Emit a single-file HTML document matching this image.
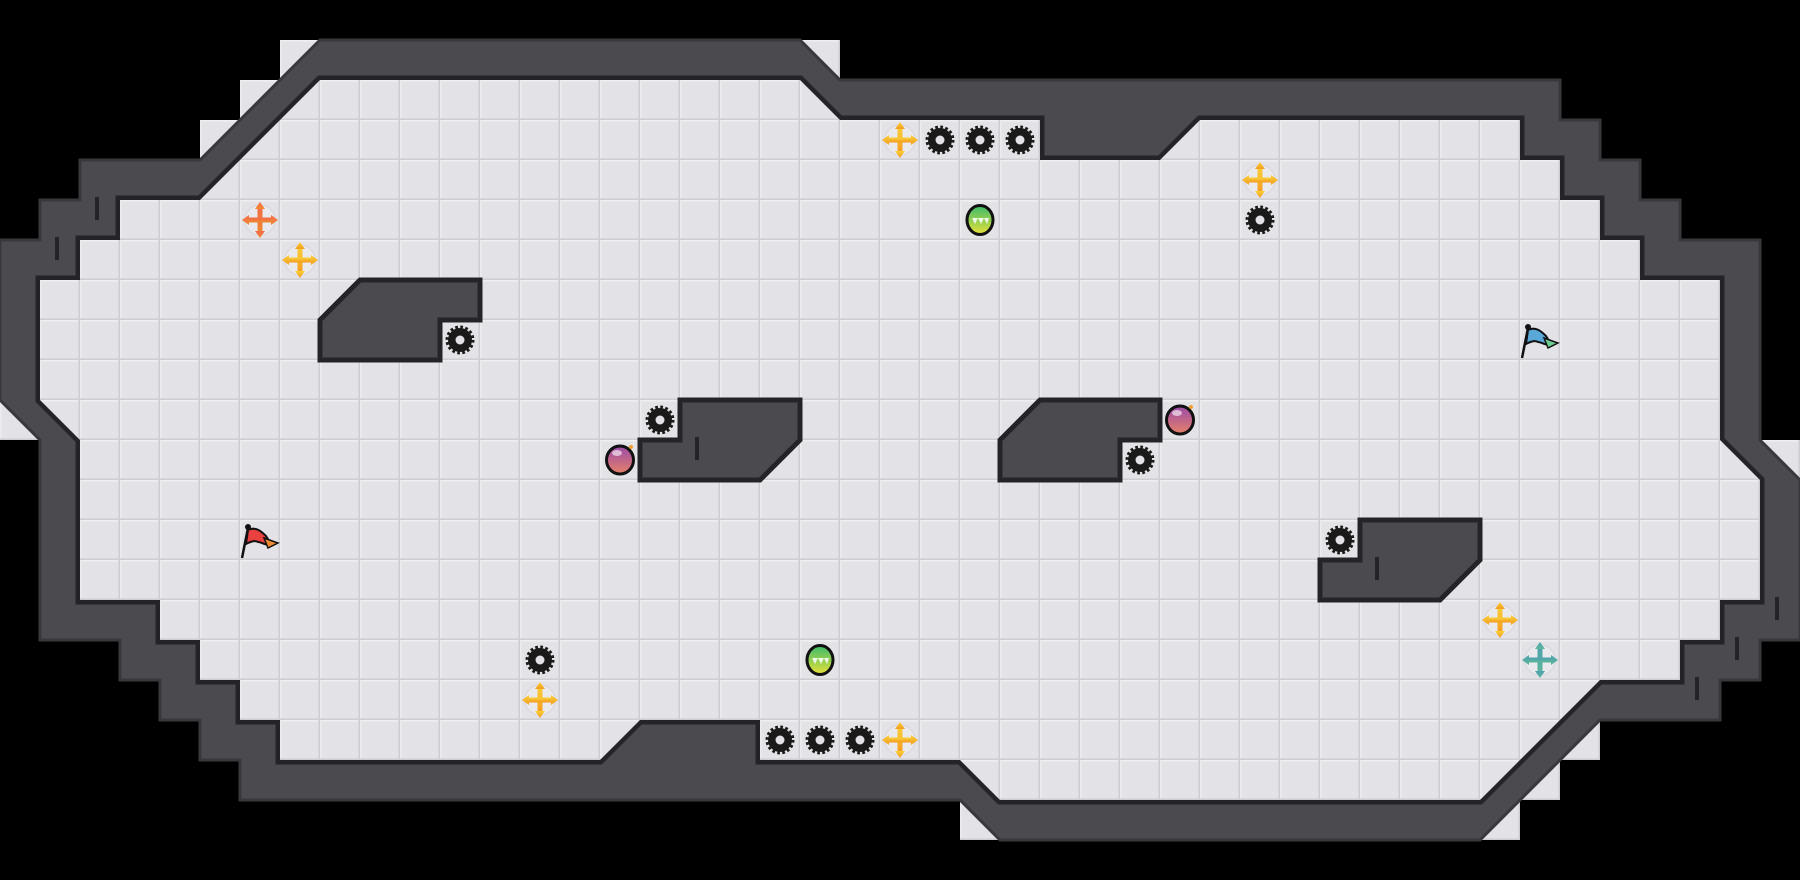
<!DOCTYPE html>
<html><head><meta charset="utf-8"><style>html,body{margin:0;padding:0;background:#000}svg{display:block}</style></head><body>
<svg width="1800" height="880" viewBox="0 0 1800 880" xmlns="http://www.w3.org/2000/svg">
<defs>
<pattern id="tile" width="40" height="40" patternUnits="userSpaceOnUse">
<rect width="40" height="40" fill="#e3e3e7"/>
<rect x="0" y="0" width="40" height="1.5" fill="#efeff2"/>
<rect x="0" y="0" width="1.5" height="40" fill="#ececef"/>
<rect x="38.5" y="0" width="1.5" height="40" fill="#cdcdd2"/>
<rect x="0" y="38.5" width="40" height="1.5" fill="#cdcdd2"/>
</pattern>
<linearGradient id="yel" x1="0" y1="0" x2="0" y2="1"><stop offset="0" stop-color="#f9d23a"/><stop offset="1" stop-color="#f39a1e"/></linearGradient>
<linearGradient id="ora" x1="0" y1="0" x2="0" y2="1"><stop offset="0" stop-color="#f26a4a"/><stop offset="1" stop-color="#f08a30"/></linearGradient>
<linearGradient id="tea" x1="0" y1="0" x2="0" y2="1"><stop offset="0" stop-color="#4f9fb0"/><stop offset="1" stop-color="#5db89a"/></linearGradient>
<linearGradient id="grn" x1="0" y1="0" x2="0" y2="1"><stop offset="0" stop-color="#3dba6a"/><stop offset="1" stop-color="#e6e23a"/></linearGradient>
<linearGradient id="pur" x1="0" y1="0" x2="0" y2="1"><stop offset="0" stop-color="#9a4aa8"/><stop offset="1" stop-color="#e7806a"/></linearGradient>
<g id="gear">
<circle r="12.5" fill="none" stroke="#1a1a1a" stroke-width="4" stroke-dasharray="2.6 2.3"/>
<circle r="12" fill="#1a1a1a"/>
<circle r="4.5" fill="#e3e3e7"/>
</g>
<g id="cross">
<circle r="15" fill="#e9e9ee" stroke="#d6d6dc" stroke-width="1"/>
<rect x="-2.5" y="-13" width="5" height="26"/>
<rect x="-13" y="-2.5" width="26" height="5"/>
<polygon points="0,-18 -5,-11 5,-11"/>
<polygon points="0,18 -5,11 5,11"/>
<polygon points="-18,0 -11,-5 -11,5"/>
<polygon points="18,0 11,-5 11,5"/>
</g>
<g id="ball">
<ellipse rx="13" ry="14.5" fill="url(#grn)" stroke="#111" stroke-width="3"/>
<polygon points="-8,-2 -5,4 -2,-2 1,4 4,-2 7,4 9,-2" fill="#fff" opacity="0.85"/>
</g>
<g id="bomb">
<ellipse rx="13.5" ry="14" fill="url(#pur)" stroke="#111" stroke-width="3"/>
<ellipse cx="-3" cy="-7" rx="5" ry="3" fill="#fff" opacity="0.6"/>
<circle cx="11" cy="-13" r="2" fill="#f0a030"/>
</g>
</defs>

<rect width="1800" height="880" fill="#000"/>

<!-- light outer cells -->
<g fill="url(#tile)">
<rect x="280" y="40" width="40" height="40"/>
<rect x="240" y="80" width="40" height="40"/>
<rect x="200" y="120" width="40" height="40"/>
<rect x="800" y="40" width="40" height="40"/>
<rect x="1760" y="440" width="40" height="40"/>
<rect x="1560" y="720" width="40" height="40"/>
<rect x="1520" y="760" width="40" height="40"/>
<rect x="1480" y="800" width="40" height="40"/>
<rect x="960" y="800" width="40" height="40"/>
<rect x="0" y="400" width="40" height="40"/>
</g>

<!-- wall -->
<polygon fill="#4a4a4f" stroke="#38383d" stroke-width="3" points="320,40 800,40 840,80 1560,80 1560,120 1600,120 1600,160 1640,160 1640,200 1680,200 1680,240 1760,240 1760,440 1800,480 1800,640 1760,640 1760,680 1720,680 1720,720 1600,720 1480,840 1000,840 960,800 240,800 240,760 200,760 200,720 160,720 160,680 120,680 120,640 40,640 40,440 0,400 0,240 40,240 40,200 80,200 80,160 200,160"/>

<!-- floor -->
<polygon id="fl" fill="none" stroke="#242428" stroke-width="9" stroke-linejoin="miter" points="320,80 800,80 840,120 1040,120 1040,160 1160,160 1200,120 1520,120 1520,160 1560,160 1560,200 1600,200 1600,240 1640,240 1640,280 1720,280 1720,440 1760,480 1760,600 1720,600 1720,640 1680,640 1680,680 1600,680 1480,800 1000,800 960,760 760,760 760,720 640,720 600,760 280,760 280,720 240,720 240,680 200,680 200,640 160,640 160,600 80,600 80,440 40,400 40,280 80,280 80,240 120,240 120,200 200,200"/>
<polygon fill="url(#tile)" points="320,80 800,80 840,120 1040,120 1040,160 1160,160 1200,120 1520,120 1520,160 1560,160 1560,200 1600,200 1600,240 1640,240 1640,280 1720,280 1720,440 1760,480 1760,600 1720,600 1720,640 1680,640 1680,680 1600,680 1480,800 1000,800 960,760 760,760 760,720 640,720 600,760 280,760 280,720 240,720 240,680 200,680 200,640 160,640 160,600 80,600 80,440 40,400 40,280 80,280 80,240 120,240 120,200 200,200"/>

<!-- wall ticks -->
<g fill="#242428">
<rect x="95" y="197" width="4" height="23"/>
<rect x="55" y="237" width="4" height="23"/>
<rect x="1775" y="597" width="4" height="23"/>
<rect x="1735" y="637" width="4" height="23"/>
<rect x="1695" y="677" width="4" height="23"/>
</g>

<!-- obstacles -->
<g fill="#4a4a4f" stroke="#242428" stroke-width="5" stroke-linejoin="miter">
<polygon points="320,320 360,280 480,280 480,320 440,320 440,360 320,360"/>
<polygon points="680,400 800,400 800,440 760,480 640,480 640,440 680,440"/>
<polygon points="1040,400 1160,400 1160,440 1120,440 1120,480 1000,480 1000,440"/>
<polygon points="1360,520 1480,520 1480,560 1440,600 1320,600 1320,560 1360,560"/>
</g>
<g fill="#242428">
<rect x="695" y="437" width="4" height="23"/>
<rect x="1375" y="557" width="4" height="23"/>
</g>

<!-- gears -->
<use href="#gear" x="460" y="340"/>
<use href="#gear" x="940" y="140"/>
<use href="#gear" x="980" y="140"/>
<use href="#gear" x="1020" y="140"/>
<use href="#gear" x="1260" y="220"/>
<use href="#gear" x="660" y="420"/>
<use href="#gear" x="1140" y="460"/>
<use href="#gear" x="1340" y="540"/>
<use href="#gear" x="540" y="660"/>
<use href="#gear" x="780" y="740"/>
<use href="#gear" x="820" y="740"/>
<use href="#gear" x="860" y="740"/>

<!-- move crosses -->
<use href="#cross" x="260" y="220" fill="url(#ora)"/>
<use href="#cross" x="300" y="260" fill="url(#yel)"/>
<use href="#cross" x="900" y="140" fill="url(#yel)"/>
<use href="#cross" x="1260" y="180" fill="url(#yel)"/>
<use href="#cross" x="1500" y="620" fill="url(#yel)"/>
<use href="#cross" x="1540" y="660" fill="url(#tea)"/>
<use href="#cross" x="540" y="700" fill="url(#yel)"/>
<use href="#cross" x="900" y="740" fill="url(#yel)"/>

<!-- balls & bombs -->
<use href="#ball" x="980" y="220"/>
<use href="#ball" x="820" y="660"/>
<use href="#bomb" x="620" y="460"/>
<use href="#bomb" x="1180" y="420"/>

<!-- flags -->
<g>
<line x1="248" y1="528" x2="242" y2="558" stroke="#111" stroke-width="2.5"/>
<circle cx="248" cy="527" r="3" fill="#111"/>
<path d="M248,530 C256,526 262,532 266,536 L271,544 C265,546 262,542 258,542 C254,540 250,542 246,544 Z" fill="#e94040" stroke="#111" stroke-width="2"/>
<path d="M264,538 L278,543 L268,548 Z" fill="#f08a30" stroke="#111" stroke-width="1.5"/>
</g>
<g>
<line x1="1528" y1="328" x2="1522" y2="358" stroke="#111" stroke-width="2.5"/>
<circle cx="1528" cy="327" r="3" fill="#111"/>
<path d="M1528,330 C1536,326 1542,332 1546,336 L1551,344 C1545,346 1542,342 1538,342 C1534,340 1530,342 1526,344 Z" fill="#5aa8d8" stroke="#111" stroke-width="2"/>
<path d="M1544,338 L1558,343 L1548,348 Z" fill="#6ccc90" stroke="#111" stroke-width="1.5"/>
</g>
</svg>
</body></html>
